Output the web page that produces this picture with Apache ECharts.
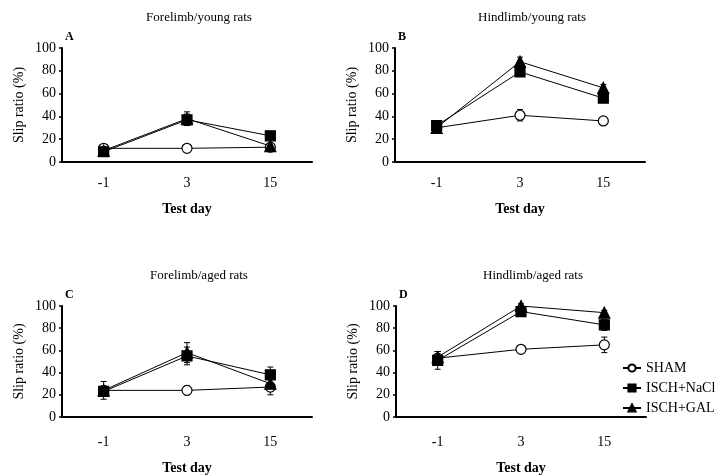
<!DOCTYPE html>
<html>
<head>
<meta charset="utf-8">
<script src="https://cdn.jsdelivr.net/npm/echarts@6/dist/echarts.min.js"></script>
<style>
  html, body { margin: 0; padding: 0; background: #fff; }
  #main { width: 715px; height: 476px; }
</style>
</head>
<body>
<div id="main"></div>
<script>
// test days (x categories)
const days = ["-1", "3", "15"];
const yTicks = [0, 20, 40, 60, 80, 100];

// A: forelimb / young rats
const aSham = [12, 12, 13];
const aNacl = [9, 37, 23];
const aGal = [10, 38, 14];
const aShamErr = [2, 1, 1];
const aNaclErr = [2, 5, 2];
const aGalErr = [2, 6, 2];

// B: hindlimb / young rats
const bSham = [30, 41, 36];
const bNacl = [32, 79, 56];
const bGal = [30, 88, 65];
const bShamErr = [4, 5, 2];
const bNaclErr = [3, 4, 3];
const bGalErr = [3, 4, 3];

// C: forelimb / aged rats
const cSham = [24, 24, 27];
const cNacl = [23, 55, 38];
const cGal = [24, 58, 30];
const cShamErr = [3, 4, 7];
const cNaclErr = [4, 8, 7];
const cGalErr = [8, 9, 5];

// D: hindlimb / aged rats
const dSham = [53, 61, 65];
const dNacl = [51, 95, 83];
const dGal = [54, 100, 94];
const dShamErr = [6, 2, 7];
const dNaclErr = [8, 2, 5];
const dGalErr = [5, 2, 2];

const groupNames = ["SHAM", "ISCH+NaCl", "ISCH+GAL"];

const panels = [
  { letter: "A", title: "Forelimb/young rats", vals: [aSham, aNacl, aGal], errs: [aShamErr, aNaclErr, aGalErr],
    grid: { left: 62, top: 48, width: 250, height: 114 }, labelGap: 14, nameGap: 40 },
  { letter: "B", title: "Hindlimb/young rats", vals: [bSham, bNacl, bGal], errs: [bShamErr, bNaclErr, bGalErr],
    grid: { left: 395, top: 48, width: 250, height: 114 }, labelGap: 14, nameGap: 40 },
  { letter: "C", title: "Forelimb/aged rats", vals: [cSham, cNacl, cGal], errs: [cShamErr, cNaclErr, cGalErr],
    grid: { left: 62, top: 306, width: 250, height: 112 }, labelGap: 18, nameGap: 44 },
  { letter: "D", title: "Hindlimb/aged rats", vals: [dSham, dNacl, dGal], errs: [dShamErr, dNaclErr, dGalErr],
    grid: { left: 396, top: 306, width: 250, height: 113 }, labelGap: 18, nameGap: 44 }
];

const FONT = "Liberation Serif";
const symbols = ["circle", "rect", "triangle"];
const symbolSizes = [10, 10, 11];
const fills = ["#fff", "#000", "#000"];

// vertical whisker with caps (mean +/- err)
function errorBar(params, api) {
  const x = api.value(0);
  const v = api.value(1);
  const e = api.value(2);
  const hi = api.coord([x, v + e]);
  const lo = api.coord([x, v - e]);
  const cap = 3;
  const st = { stroke: "#000", lineWidth: 1 };
  return {
    type: "group",
    children: [
      { type: "line", shape: { x1: hi[0], y1: hi[1], x2: lo[0], y2: lo[1] }, style: st },
      { type: "line", shape: { x1: hi[0] - cap, y1: hi[1], x2: hi[0] + cap, y2: hi[1] }, style: st },
      { type: "line", shape: { x1: lo[0] - cap, y1: lo[1], x2: lo[0] + cap, y2: lo[1] }, style: st }
    ]
  };
}

const grids = [], xAxes = [], yAxes = [], series = [], titles = [];

panels.forEach((p, k) => {
  grids.push(p.grid);
  xAxes.push({
    type: "category", gridIndex: k, data: days, boundaryGap: true,
    name: "Test day", nameLocation: "middle", nameGap: p.nameGap,
    nameTextStyle: { fontFamily: FONT, fontSize: 14, fontWeight: "bold", color: "#000" },
    axisLine: { lineStyle: { color: "#000", width: 2 } },
    axisTick: { alignWithLabel: true, length: 4, lineStyle: { color: "#000", width: 1.5 } },
    axisLabel: { fontFamily: FONT, fontSize: 14, color: "#000", margin: p.labelGap },
    splitLine: { show: false }
  });
  yAxes.push({
    type: "value", gridIndex: k, min: 0, max: 100, interval: 20,
    name: "Slip ratio (%)", nameLocation: "middle", nameGap: 36, nameRotate: 90,
    nameTextStyle: { fontFamily: FONT, fontSize: 14, color: "#000" },
    axisLine: { show: true, lineStyle: { color: "#000", width: 2 } },
    axisTick: { show: true, length: 3, lineStyle: { color: "#000", width: 1.5 } },
    axisLabel: { fontFamily: FONT, fontSize: 14, color: "#000", margin: 6,
      formatter: (v) => (yTicks.includes(v) ? String(v) : "") },
    splitLine: { show: false }
  });
  titles.push({
    text: p.title, left: p.grid.left + p.grid.width / 2 + 7, top: p.grid.top - 42, textAlign: "center",
    textStyle: { fontFamily: FONT, fontSize: 13, fontWeight: "normal", color: "#000" }
  });
  titles.push({
    text: p.letter, left: p.grid.left - 2, top: p.grid.top - 22,
    textStyle: { fontFamily: FONT, fontSize: 12, fontWeight: "bold", color: "#000" }
  });
  groupNames.forEach((name, g) => {
    series.push({
      type: "custom", xAxisIndex: k, yAxisIndex: k, z: 1,
      renderItem: errorBar, silent: true,
      itemStyle: { color: "#000" },
      data: p.vals[g].map((v, i) => [i, v, p.errs[g][i]])
    });
    series.push({
      type: "line", name: name, xAxisIndex: k, yAxisIndex: k, z: 3 + g,
      data: p.vals[g], symbol: symbols[g], symbolSize: symbolSizes[g],
      lineStyle: { color: "#000", width: 1 },
      itemStyle: { color: fills[g], borderColor: "#000", borderWidth: 1.2 },
      emphasis: { disabled: true }
    });
  });
});

const chart = echarts.init(document.getElementById("main"), null, { renderer: "canvas" });
chart.setOption({
  animation: false,
  backgroundColor: "#fff",
  color: ["#000"],
  title: titles,
  grid: grids,
  xAxis: xAxes,
  yAxis: yAxes,
  legend: {
    orient: "vertical", left: 617, top: 356, itemGap: 6, itemWidth: 18, itemHeight: 9,
    data: groupNames,
    textStyle: { fontFamily: FONT, fontSize: 14, color: "#000" }
  },
  series: series
});
</script>
</body>
</html>
